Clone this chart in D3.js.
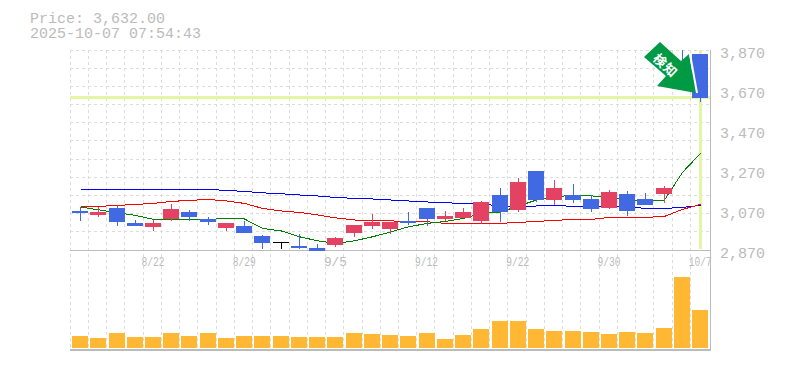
<!DOCTYPE html>
<html>
<head>
<meta charset="utf-8">
<script src="https://cdn.jsdelivr.net/npm/d3@7"></script>
<style>
    html, body { margin: 0; padding: 0; background: #fff; }
    svg { display: block; }
</style>
</head>
<body>
<div id="chart"></div>
<script>
'use strict';

const dates = ['8/18', '8/19', '8/20', '8/21', '8/22', '8/25', '8/26', '8/27', '8/28', '8/29',
    '9/1', '9/2', '9/3', '9/4', '9/5', '9/8', '9/9', '9/10', '9/11', '9/12',
    '9/16', '9/17', '9/18', '9/19', '9/22', '9/24', '9/25', '9/26', '9/29', '9/30',
    '10/1', '10/2', '10/3', '10/6', '10/7'];
const tickDates = ['8/22', '8/29', '9/5', '9/12', '9/22', '9/30', '10/7'];
const priceTicks = [2870, 3070, 3270, 3470, 3670, 3870];

const opens = [3065, 3045, 3080, 3005, 2985, 3025, 3060, 3025, 2980, 2990, 2940, 2910, 2890, 2880, 2895, 2955, 2990, 2975,
    3015, 3080, 3025, 3030, 3015, 3145, 3070, 3265, 3120, 3145, 3125, 3080, 3150, 3125, 3150, 3815, 3850];
const highs = [3087, 3086, 3095, 3020, 3020, 3100, 3070, 3035, 3005, 3015, 2945, 2910, 2950, 2900, 2935, 2995, 3050, 3010,
    3060, 3080, 3065, 3080, 3115, 3180, 3230, 3265, 3220, 3200, 3145, 3170, 3165, 3155, 3190, 3870, 3850];
const lows = [3015, 3036, 2992, 2990, 2965, 3015, 3015, 2995, 2965, 2955, 2875, 2875, 2875, 2865, 2885, 2935, 2975, 2950,
    2995, 2990, 3015, 3030, 3000, 3010, 3060, 3110, 3095, 3105, 3060, 3075, 3040, 3095, 3105, 3720, 3610];
const closes = [3055, 3061, 3010, 2990, 3005, 3075, 3035, 3010, 3005, 2955, 2905, 2910, 2880, 2865, 2930, 2995, 3010, 3010,
    3005, 3025, 3040, 3060, 3110, 3060, 3210, 3120, 3180, 3120, 3075, 3160, 3065, 3095, 3180, 3795, 3632];
const volumes = [12000, 10000, 15000, 11000, 11000, 15000, 12000, 15000, 10000, 12000, 12000, 12000, 11000, 11000, 11000, 15000, 14000, 13000,
    12000, 15000, 9000, 13000, 19000, 27000, 27000, 19000, 17000, 17000, 16000, 14000, 16000, 15000, 20000, 71000, 38000];

const maLong = [3173, 3173, 3173, 3173, 3173, 3173, 3173, 3173, 3168, 3163, 3156, 3151, 3145, 3140, 3133, 3128, 3125, 3120,
    3115, 3110, 3106, 3103, 3098, 3092, 3086, 3090, 3093, 3088, 3086, 3086, 3086, 3078, 3078, 3083, 3093];
const maMid = [3088, 3088, 3093, 3098, 3103, 3113, 3118, 3123, 3115, 3103, 3078, 3065, 3058, 3045, 3031, 3020, 3016, 3016,
    3011, 3011, 3003, 3003, 3003, 3003, 3008, 3013, 3018, 3023, 3023, 3033, 3033, 3033, 3038, 3073, 3098];
const maShort = [3085, 3071, 3056, 3043, 3023, 3023, 3023, 3023, 3028, 3025, 2978, 2965, 2936, 2916, 2903, 2916, 2936, 2960,
    2986, 3003, 3013, 3028, 3053, 3060, 3090, 3120, 3135, 3145, 3141, 3130, 3120, 3113, 3120, 3258, 3353];

const lastPrice = 3632;
const headerLines = ['Price: 3,632.00', '2025-10-07 07:54:43'];

const UP = '#e34262', DOWN = '#4169e1', FLAT = '#000000';
const GREY = '#bbbbbb', GRID = '#dcdcdc';
const monoFont = '"Liberation Mono", monospace';

const svg = d3.select('#chart').append('svg')
    .attr('width', 785)
    .attr('height', 370);

const x = d3.scaleBand().domain(dates).range([70.2, 708.6]);
const y = d3.scaleLinear().domain([2870, 3870]).range([250, 50]);
const vol = d3.scaleLinear().domain([0, d3.max(volumes)]).range([348, 277]);

// candle centre, the source chart rounds to whole pixels
function cx(d) {
    return Math.round(x(d) + x.bandwidth() / 2 + 0.7);
}

// grid
const grid = svg.append('g')
    .attr('stroke', GRID)
    .attr('stroke-dasharray', '3 3')
    .attr('shape-rendering', 'crispEdges');

grid.selectAll('.v').data(dates).enter().append('line')
    .attr('x1', d => Math.floor(x(d)) + 0.5)
    .attr('x2', d => Math.floor(x(d)) + 0.5)
    .attr('y1', 50)
    .attr('y2', 350);

grid.selectAll('.h').data(d3.range(1, 12)).enter().append('line')
    .attr('x1', 70)
    .attr('x2', 710)
    .attr('y1', i => Math.floor(y(2870 + i * 1000 / 11)) + 0.5)
    .attr('y2', i => Math.floor(y(2870 + i * 1000 / 11)) + 0.5);

// current price cross
svg.append('line')
    .attr('x1', 70).attr('x2', 710)
    .attr('y1', y(lastPrice)).attr('y2', y(lastPrice))
    .attr('stroke', '#e4f5a5').attr('stroke-width', 3)
    .attr('shape-rendering', 'crispEdges');
svg.append('line')
    .attr('x1', cx('10/7') + 0.5).attr('x2', cx('10/7') + 0.5)
    .attr('y1', 50).attr('y2', 249)
    .attr('stroke', '#e4f5a5').attr('stroke-width', 3)
    .attr('shape-rendering', 'crispEdges');

// frame
const frame = svg.append('g').attr('stroke', GREY).attr('shape-rendering', 'crispEdges');
frame.append('line').attr('x1', 70).attr('x2', 710).attr('y1', 250.5).attr('y2', 250.5);
frame.append('line').attr('x1', 70).attr('x2', 711).attr('y1', 350).attr('y2', 350).attr('stroke-width', 2);
frame.append('line').attr('x1', 710.5).attr('x2', 710.5).attr('y1', 50).attr('y2', 351);

// moving averages, drawn under the candles
const maLine = d3.line()
    .x((v, i) => cx(dates[i]) + 0.5)
    .y(v => y(v));

[[maLong, '#0000ff'], [maMid, '#ff0000'], [maShort, '#008000']].forEach(function (ma) {
    svg.append('path')
        .attr('d', maLine(ma[0]))
        .attr('fill', 'none')
        .attr('stroke', ma[1])
        .attr('stroke-width', 1)
        .attr('shape-rendering', 'crispEdges');
});

// candles
function candleColor(i) {
    if (closes[i] > opens[i]) return UP;
    if (closes[i] < opens[i]) return DOWN;
    return FLAT;
}

const candles = svg.append('g').attr('shape-rendering', 'crispEdges');

candles.selectAll('.wick').data(dates).enter().append('line')
    .attr('x1', d => cx(d) + 0.5)
    .attr('x2', d => cx(d) + 0.5)
    .attr('y1', (d, i) => y(highs[i]))
    .attr('y2', (d, i) => y(lows[i]))
    .attr('stroke', (d, i) => candleColor(i));

candles.selectAll('.body').data(dates).enter().append('rect')
    .attr('x', d => cx(d) - 8)
    .attr('width', 16)
    .attr('y', (d, i) => Math.round(y(Math.max(opens[i], closes[i]))))
    .attr('height', (d, i) => Math.max(1, Math.round(Math.abs(y(opens[i]) - y(closes[i])))))
    .attr('fill', (d, i) => candleColor(i));

// volume
svg.append('g').attr('shape-rendering', 'crispEdges')
    .selectAll('rect').data(dates).enter().append('rect')
    .attr('x', d => cx(d) - 8)
    .attr('width', 16)
    .attr('y', (d, i) => vol(volumes[i]))
    .attr('height', (d, i) => vol(0) - vol(volumes[i]))
    .attr('fill', '#ffb833');

// axes
const rightAxis = svg.append('g')
    .attr('transform', 'translate(710,0)')
    .call(d3.axisRight(y).tickValues(priceTicks).tickSize(0).tickPadding(10).tickFormat(d3.format(',')));
rightAxis.select('.domain').remove();
rightAxis.selectAll('text')
    .attr('dy', '7px')
    .style('font-family', monoFont)
    .style('font-size', '15px')
    .style('fill', GREY);

const bottomAxis = svg.append('g')
    .attr('transform', 'translate(0.7,250)')
    .call(d3.axisBottom(x).tickValues(tickDates).tickSize(0).tickPadding(0));
bottomAxis.select('.domain').remove();
bottomAxis.selectAll('text')
    .attr('y', 16)
    .attr('dy', 0)
    .attr('textLength', 23)
    .attr('lengthAdjust', 'spacingAndGlyphs')
    .style('font-family', monoFont)
    .style('font-size', '13px')
    .style('fill', GREY);

// header
svg.selectAll('.header').data(headerLines).enter().append('text')
    .attr('x', 30)
    .attr('y', (d, i) => 22.5 + i * 15.5)
    .style('font-family', monoFont)
    .style('font-size', '15px')
    .style('fill', GREY)
    .text(d => d);

// marker arrow
svg.append('polygon')
    .attr('points', '660,42 681,61 689,54 696,93 657,86 666,76 644,57')
    .attr('fill', '#009944');
svg.append('line')
    .attr('x1', 690).attr('y1', 54)
    .attr('x2', 697).attr('y2', 93)
    .attr('stroke', '#ffffff')
    .attr('stroke-width', 2);

svg.append('text')
    .attr('transform', 'translate(666,65) rotate(43)')
    .attr('text-anchor', 'middle')
    .attr('dominant-baseline', 'central')
    .style('font-family', '"Noto Sans CJK JP", sans-serif')
    .style('font-size', '13px')
    .style('font-weight', 'bold')
    .style('letter-spacing', '1px')
    .style('fill', '#ffffff')
    .text('検知');
</script>
</body>
</html>
